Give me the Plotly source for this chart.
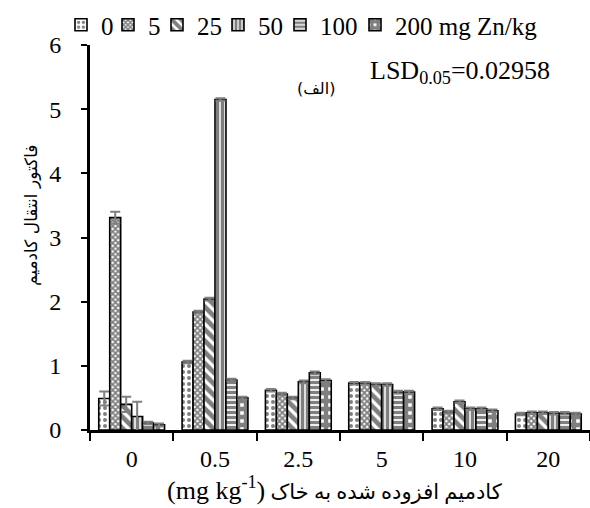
import plotly.graph_objects as go

# Cd added to soil (mg/kg) and the Zn treatments
cd_levels = ["0", "0.5", "2.5", "5", "10", "20"]
zn_names = ["0", "5", "25", "50", "100", "200 mg Zn/kg"]

# Cadmium transfer factor per Zn treatment, one value per Cd level
tf_zn0 = [0.49, 1.06, 0.62, 0.73, 0.33, 0.25]
tf_zn5 = [3.31, 1.84, 0.56, 0.73, 0.28, 0.27]
tf_zn25 = [0.40, 2.04, 0.50, 0.71, 0.44, 0.27]
tf_zn50 = [0.21, 5.15, 0.75, 0.71, 0.33, 0.26]
tf_zn100 = [0.11, 0.78, 0.89, 0.59, 0.33, 0.26]
tf_zn200 = [0.08, 0.50, 0.77, 0.59, 0.30, 0.25]

# Standard errors
se_zn0 = [0.11, 0.02, 0.02, 0.02, 0.02, 0.02]
se_zn5 = [0.09, 0.02, 0.02, 0.02, 0.02, 0.02]
se_zn25 = [0.12, 0.02, 0.02, 0.02, 0.02, 0.02]
se_zn50 = [0.23, 0.02, 0.02, 0.02, 0.02, 0.02]
se_zn100 = [0.02, 0.02, 0.02, 0.02, 0.02, 0.02]
se_zn200 = [0.02, 0.02, 0.02, 0.02, 0.02, 0.02]

series = [tf_zn0, tf_zn5, tf_zn25, tf_zn50, tf_zn100, tf_zn200]
errors = [se_zn0, se_zn5, se_zn25, se_zn50, se_zn100, se_zn200]

patterns = [
    dict(shape=".", size=6, solidity=0.35),
    dict(shape="x", size=4, solidity=0.7),
    dict(shape="\\", size=8, solidity=0.6),
    dict(shape="|", size=5, solidity=0.7),
    dict(shape="-", size=5, solidity=0.65),
    dict(shape="+", size=8, solidity=0.8),
]

# left edge (px) of each legend entry across the top row
legend_left_px = [61, 108, 157, 218, 280, 355]

serif = "Liberation Serif, Times New Roman, DejaVu Sans"
W, H = 590, 508
L, R, T, B = 90, 0, 45, 78
PW, PH = W - L - R, H - T - B


def px_x(x):
    return (x - L) / PW


def px_y(y):
    return (H - B - y) / PH


fig = go.Figure()
legend_layouts = {}
for i, (name, vals, errs, pat) in enumerate(zip(zn_names, series, errors, patterns)):
    lg = "legend" if i == 0 else f"legend{i + 1}"
    fig.add_trace(go.Bar(
        name=name,
        x=cd_levels,
        y=vals,
        legend=lg,
        error_y=dict(type="data", array=errs, visible=True,
                     color="#7f7f7f", thickness=2, width=5),
        marker=dict(color="white",
                    line=dict(color="black", width=1.6),
                    pattern=dict(fgcolor="black", bgcolor="white", **pat)),
    ))
    legend_layouts[lg] = dict(
        orientation="h",
        x=px_x(legend_left_px[i]), xanchor="left",
        y=px_y(25), yanchor="middle",
        font=dict(family=serif, size=25), itemwidth=30,
        bgcolor="rgba(0,0,0,0)", borderwidth=0,
    )

fig.update_layout(
    width=W, height=H,
    margin=dict(l=L, r=R, t=T, b=B, autoexpand=False),
    plot_bgcolor="white", paper_bgcolor="white",
    barmode="group", bargap=0.21, bargroupgap=0,
    font=dict(family=serif, size=24, color="black"),
    showlegend=True,
    annotations=[
        dict(text="(الف)", x=px_x(316), y=px_y(88),
             xref="paper", yref="paper", xanchor="center", yanchor="middle",
             showarrow=False, font=dict(family="DejaVu Sans", size=16)),
        dict(text="LSD<sub>0.05</sub>=0.02958", x=px_x(460), y=px_y(72),
             xref="paper", yref="paper", xanchor="center", yanchor="middle",
             showarrow=False, font=dict(family=serif, size=26)),
        dict(text="فاکتور انتقال کادمیم", textangle=-90,
             x=px_x(31), y=px_y(216),
             xref="paper", yref="paper", xanchor="center", yanchor="middle",
             showarrow=False, font=dict(family="DejaVu Sans", size=17)),
        dict(text="<span style='font-size:26px'>(mg kg<sup>-1</sup>)</span> "
                  "کادمیم افزوده شده به خاک",
             x=px_x(334), y=px_y(488),
             xref="paper", yref="paper", xanchor="center", yanchor="middle",
             showarrow=False, font=dict(family=serif, size=21)),
    ],
    **legend_layouts,
)

fig.update_xaxes(
    type="category",
    showline=True, linecolor="black", linewidth=3,
    ticks="outside", ticklen=8, tickwidth=2, tickcolor="black",
    tickson="boundaries", ticklabelstandoff=5,
    tickfont=dict(family=serif, size=24),
    showgrid=False, zeroline=False,
)

fig.update_yaxes(
    range=[0, 6], dtick=1,
    showline=True, linecolor="black", linewidth=3,
    ticks="outside", ticklen=6, tickwidth=2, tickcolor="black",
    ticklabelstandoff=15,
    tickfont=dict(family=serif, size=24),
    showgrid=False, zeroline=False,
)

fig.write_html("out.html")
